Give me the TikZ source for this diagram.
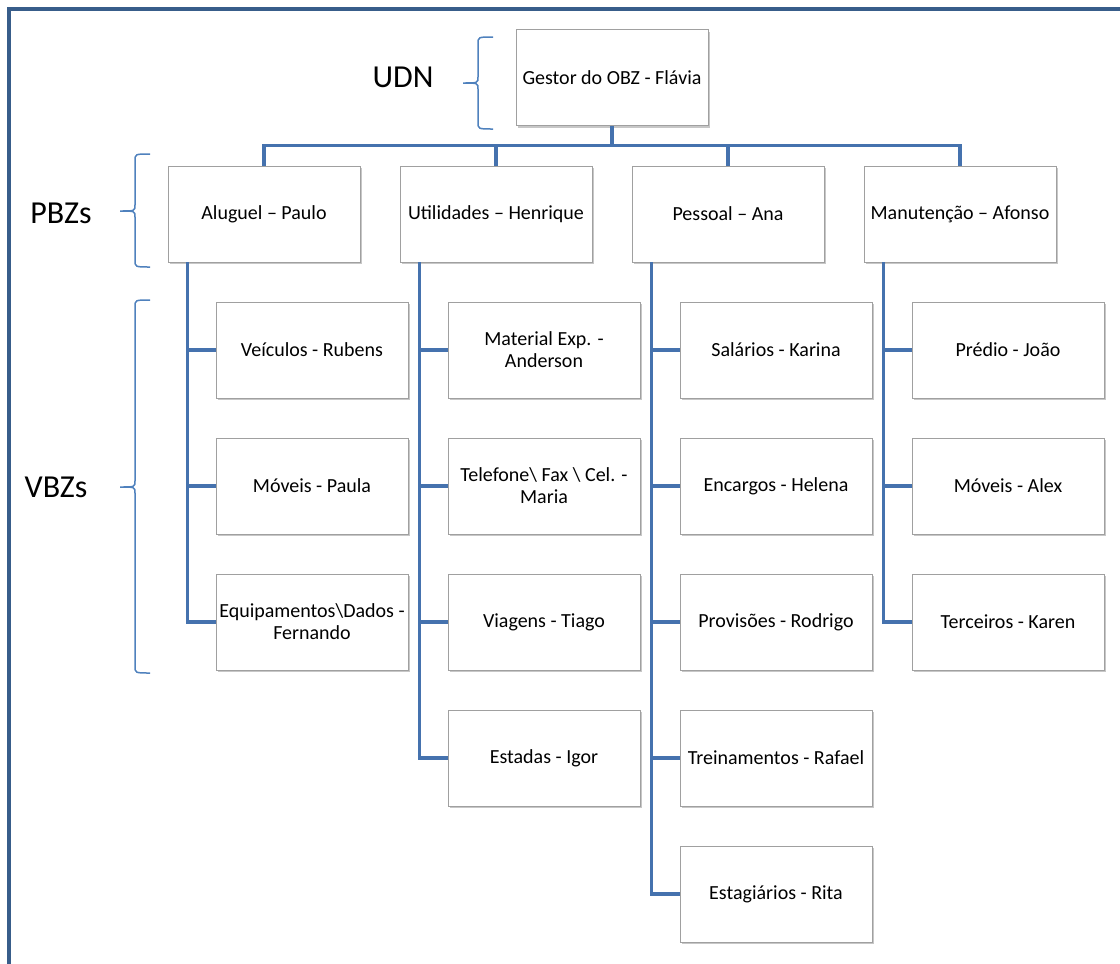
\documentclass[tikz,border=0pt]{standalone}
\usepackage{fontspec}
\setmainfont{Carlito}
\usetikzlibrary{shadows}
\definecolor{connc}{RGB}{69,114,174}
\definecolor{framec}{RGB}{56,93,138}
\definecolor{bracec}{RGB}{79,129,189}
\definecolor{boxline}{RGB}{160,160,160}
% brace: x of ends, x of body, y top, y bottom, y tip
\newcommand\mybracepath[5]{%
  \draw[brc] (#1,#3) .. controls (#2,#3) .. (#2,#3+7) -- (#2,#5-6)
    .. controls (#2,#5) .. (#2-15,#5) .. controls (#2,#5) .. (#2,#5+6)
    -- (#2,#4-7) .. controls (#2,#4) .. (#1,#4);}
\begin{document}
\begin{tikzpicture}[x=1pt,y=-1pt,
  box/.style={draw=boxline, line width=0.8pt, fill=white, minimum width=192pt, minimum height=96pt, inner sep=0pt, align=center,
    font=\fontsize{20}{22}\selectfont,
    drop shadow={shadow xshift=2pt, shadow yshift=-2pt, fill=black, opacity=0.22}},
  conn/.style={draw=connc, line width=3.2pt},
  brc/.style={draw=bracec, line width=1.5pt},
  lvl/.style={font=\fontsize{32}{36}\selectfont, inner sep=0pt}]
\useasboundingbox (0,0) rectangle (1120,964);
% frame
\draw[framec, line width=3.5pt] (9,964) -- (9,9) -- (1120,9);
% nodes
\node[box] (g) at (612,77.5) {Gestor do OBZ - Flávia};
\node[box] (p1) at (264,214) {Aluguel – Paulo};
\node[box] (p2) at (496,214) {Utilidades – Henrique};
\node[box] (p3) at (728,214) {Pessoal – Ana};
\node[box] (p4) at (960,214) {Manutenção – Afonso};
\node[box] (c11) at (312,350) {Veículos - Rubens};
\node[box] (c12) at (312,486) {Móveis - Paula};
\node[box] (c13) at (312,622) {Equipamentos\textbackslash Dados -\\Fernando};
\node[box] (c21) at (544,350) {Material Exp. -\\Anderson};
\node[box] (c22) at (544,486) {Telefone\textbackslash{} Fax \textbackslash{} Cel. -\\Maria};
\node[box] (c23) at (544,622) {Viagens - Tiago};
\node[box] (c24) at (544,758) {Estadas - Igor};
\node[box] (c31) at (776,350) {Salários - Karina};
\node[box] (c32) at (776,486) {Encargos - Helena};
\node[box] (c33) at (776,622) {Provisões - Rodrigo};
\node[box] (c34) at (776,758) {Treinamentos - Rafael};
\node[box] (c35) at (776,894) {Estagiários - Rita};
\node[box] (c41) at (1008,350) {Prédio - João};
\node[box] (c42) at (1008,486) {Móveis - Alex};
\node[box] (c43) at (1008,622) {Terceiros - Karen};
% labels
\node[lvl] (udn) at (403,77) {UDN};
\node[lvl] (pbz) at (61,213) {PBZs};
\node[lvl] (vbz) at (56,487) {VBZs};
% braces
\mybracepath{493}{478}{37}{129}{83}
\mybracepath{150}{135}{154}{267}{211}
\mybracepath{150}{135}{300}{673}{487}
% connectors
\coordinate (bus) at (612,145.5);
\draw[conn] (g.south) -- (bus);
\draw[conn] (bus) -| (p1.north);
\draw[conn] (bus) -| (p2.north);
\draw[conn] (bus) -| (p3.north);
\draw[conn] (bus) -| (p4.north);
\coordinate (t1) at ([xshift=20pt]p1.south west);
\coordinate (t2) at ([xshift=20pt]p2.south west);
\coordinate (t3) at ([xshift=20pt]p3.south west);
\coordinate (t4) at ([xshift=20pt]p4.south west);
\foreach \c in {c11,c12,c13} \draw[conn] (t1) |- (\c.west);
\foreach \c in {c21,c22,c23,c24} \draw[conn] (t2) |- (\c.west);
\foreach \c in {c31,c32,c33,c34,c35} \draw[conn] (t3) |- (\c.west);
\foreach \c in {c41,c42,c43} \draw[conn] (t4) |- (\c.west);
\end{tikzpicture}
\end{document}
